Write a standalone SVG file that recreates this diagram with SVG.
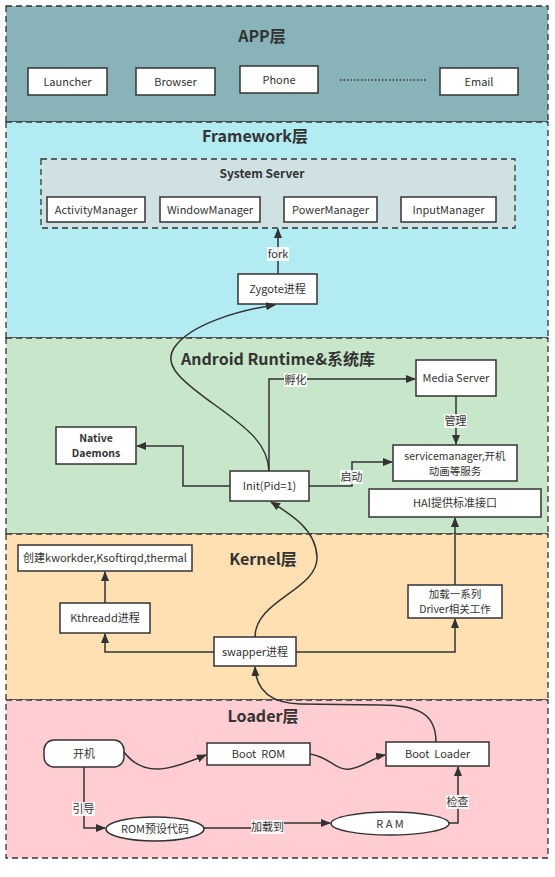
<svg xmlns="http://www.w3.org/2000/svg" width="555" height="877" viewBox="0 0 555 877">
<defs>
<style>
text{font-family:"Noto Sans CJK SC","Noto Sans",sans-serif;fill:#333;}
.layer{stroke:#333;stroke-width:1.3;stroke-dasharray:6,4;}
.title{font-size:16px;font-weight:bold;text-anchor:middle;}
.box{fill:#fff;stroke:#333;stroke-width:1.5;}
.t{font-size:11px;text-anchor:middle;}
.t2{font-size:10.5px;text-anchor:middle;}
.b{font-size:10.5px;font-weight:bold;text-anchor:middle;}
.lbl{font-size:11px;text-anchor:middle;}
.lbg{fill:#fff;opacity:0.85;}
.c{fill:none;stroke:#333;stroke-width:1.5;marker-end:url(#ah);}
</style>
<marker id="ah" markerWidth="10" markerHeight="10" refX="9" refY="5" orient="auto" markerUnits="userSpaceOnUse">
<path d="M0,1 L10,5 L0,9 Z" fill="#333"/>
</marker>
</defs>
<rect width="555" height="877" fill="#fff"/>

<g id="layers">
<rect class="layer" x="6" y="6" width="542" height="116" fill="#88b4b9"/>
<rect class="layer" x="6" y="122" width="542" height="216" fill="#b2ebf2"/>
<rect class="layer" x="6" y="338" width="542" height="196" fill="#c8e6c9"/>
<rect class="layer" x="6" y="534" width="542" height="166" fill="#ffe0b2"/>
<rect class="layer" x="6" y="700" width="542" height="158" fill="#ffcdd2"/>
<text class="title" x="262" y="42">APP层</text>
<text class="title" x="255" y="142">Framework层</text>
<text class="title" x="278" y="365">Android Runtime&amp;系统库</text>
<text class="title" x="263" y="565">Kernel层</text>
<text class="title" x="263" y="722">Loader层</text>
</g>

<g id="app-nodes">
<g id="launcher"><rect class="box" x="28" y="68" width="79" height="27"/><text class="t" x="67.5" y="85.5">Launcher</text></g>
<g id="browser"><rect class="box" x="136" y="68" width="79" height="27"/><text class="t" x="175.5" y="85.5">Browser</text></g>
<g id="phone"><rect class="box" x="240" y="66" width="78" height="27"/><text class="t" x="279" y="83.5">Phone</text></g>
<line x1="340" y1="80" x2="426" y2="80" stroke="#333" stroke-width="1.5" stroke-dasharray="1.5,2"/>
<g id="email"><rect class="box" x="440" y="68" width="78" height="27"/><text class="t" x="479" y="85.5">Email</text></g>
</g>

<g id="system-server">
<rect x="41" y="159" width="474" height="69" fill="#d0e1e4" stroke="#333" stroke-width="1.3" stroke-dasharray="6,4"/>
<text x="262" y="178" style="font-size:12px;font-weight:bold;text-anchor:middle;">System Server</text>
<g id="activitymanager"><rect class="box" x="47" y="197" width="98" height="25"/><text class="t" x="96" y="213.5">ActivityManager</text></g>
<g id="windowmanager"><rect class="box" x="160" y="197" width="100" height="25"/><text class="t" x="210" y="213.5">WindowManager</text></g>
<g id="powermanager"><rect class="box" x="284" y="197" width="93" height="25"/><text class="t" x="330.5" y="213.5">PowerManager</text></g>
<g id="inputmanager"><rect class="box" x="401" y="197" width="95" height="25"/><text class="t" x="448.5" y="213.5">InputManager</text></g>
</g>

<g id="zygote"><rect class="box" x="238" y="274" width="79" height="30"/><text class="t" x="277.5" y="293">Zygote进程</text></g>

<g id="media-server"><rect class="box" x="416" y="360" width="80" height="36"/><text class="t" x="456" y="382">Media Server</text></g>
<g id="native-daemons"><rect class="box" x="56" y="427" width="80" height="37"/><text class="b" x="96" y="441.5">Native</text><text class="b" x="96" y="457">Daemons</text></g>
<g id="servicemanager"><rect class="box" x="393" y="445" width="124" height="36"/><text class="t2" x="455" y="459.5">servicemanager,开机</text><text class="t2" x="455" y="475">动画等服务</text></g>
<g id="init"><rect class="box" x="230" y="471" width="79" height="30"/><text class="t" x="269.5" y="490">Init(Pid=1)</text></g>
<g id="hal"><rect class="box" x="369" y="489" width="172" height="28"/><text class="t" x="455" y="507">HAl提供标准接口</text></g>

<g id="kworker"><rect class="box" x="18" y="545" width="174" height="26"/><text class="t" x="105" y="562">创建kworkder,Ksoftirqd,thermal</text></g>
<g id="kthreadd"><rect class="box" x="60" y="603" width="90" height="30"/><text class="t" x="105" y="622">Kthreadd进程</text></g>
<g id="driver"><rect class="box" x="408" y="585" width="94" height="33"/><text class="t2" x="455" y="597.5">加载一系列</text><text class="t2" x="455" y="613">Driver相关工作</text></g>
<g id="swapper"><rect class="box" x="214" y="637" width="82" height="29"/><text class="t" x="255" y="655.5">swapper进程</text></g>

<g id="power-on"><rect class="box" x="44" y="740" width="80" height="27" rx="10"/><text class="t" x="84" y="757.5">开机</text></g>
<g id="boot-rom"><rect class="box" x="207" y="743" width="103" height="22"/><text class="t" x="258.5" y="758" xml:space="preserve">Boot  ROM</text></g>
<g id="boot-loader"><rect class="box" x="386" y="742" width="103" height="24"/><text class="t" x="437.5" y="758" xml:space="preserve">Boot  Loader</text></g>
<g id="rom-code"><ellipse class="box" cx="155" cy="829" rx="49" ry="12"/><text class="t" x="155" y="833">ROM预设代码</text></g>
<g id="ram"><ellipse class="box" cx="390" cy="823.5" rx="59" ry="11.5"/><text class="t" x="390" y="827.5">R A M</text></g>

<g id="connectors">
<path class="c" d="M278,274 L278,229"/>
<path class="c" d="M269,471 C268,445 250,430 215,405 C180,380 163,365 174,348 C190,324 240,310 275,305"/>
<path class="c" d="M269,471 L269,379 L415,379"/>
<path class="c" d="M230,486 L183,486 L183,446 L137,446"/>
<path class="c" d="M309,486 L352,486 L352,462 L392,462"/>
<path class="c" d="M456,396 L456,444"/>
<path class="c" d="M455,585 L455,518"/>
<path class="c" d="M214,652 L105,652 L105,634"/>
<path class="c" d="M105,603 L105,572"/>
<path class="c" d="M296,652 L455,652 L455,619"/>
<path class="c" d="M255,637 C255,600 318,590 317,557 C316,530 292,515 271,502"/>
<path class="c" d="M436,742 C436,715 420,705 380,705 L300,704 C270,703 256,690 255,667"/>
<path class="c" d="M124,752 C145,780 175,768 206,755"/>
<path class="c" d="M310,754 C330,757 336,771 350,769 C364,767 374,757 385,755"/>
<path class="c" d="M84,767 L84,828 L105,828"/>
<path class="c" d="M204,828 L267,828 L267,823 L330,823"/>
<path class="c" d="M449,823 L458,823 L458,767"/>
<g id="labels">
<rect class="lbg" x="267" y="247" width="22" height="14"/><text class="lbl" x="278" y="258">fork</text>
<rect class="lbg" x="284" y="373" width="23" height="14"/><text class="lbl" x="295.5" y="384">孵化</text>
<rect class="lbg" x="444" y="414" width="23" height="14"/><text class="lbl" x="455.5" y="425">管理</text>
<rect class="lbg" x="340" y="470" width="23" height="14"/><text class="lbl" x="351.5" y="481">启动</text>
<rect class="lbg" x="72" y="802" width="23" height="14"/><text class="lbl" x="83.5" y="813">引导</text>
<rect class="lbg" x="251" y="820" width="33" height="14"/><text class="lbl" x="267.5" y="831">加载到</text>
<rect class="lbg" x="446" y="795" width="23" height="14"/><text class="lbl" x="457.5" y="806">检查</text>
</g>
</g>
</svg>
